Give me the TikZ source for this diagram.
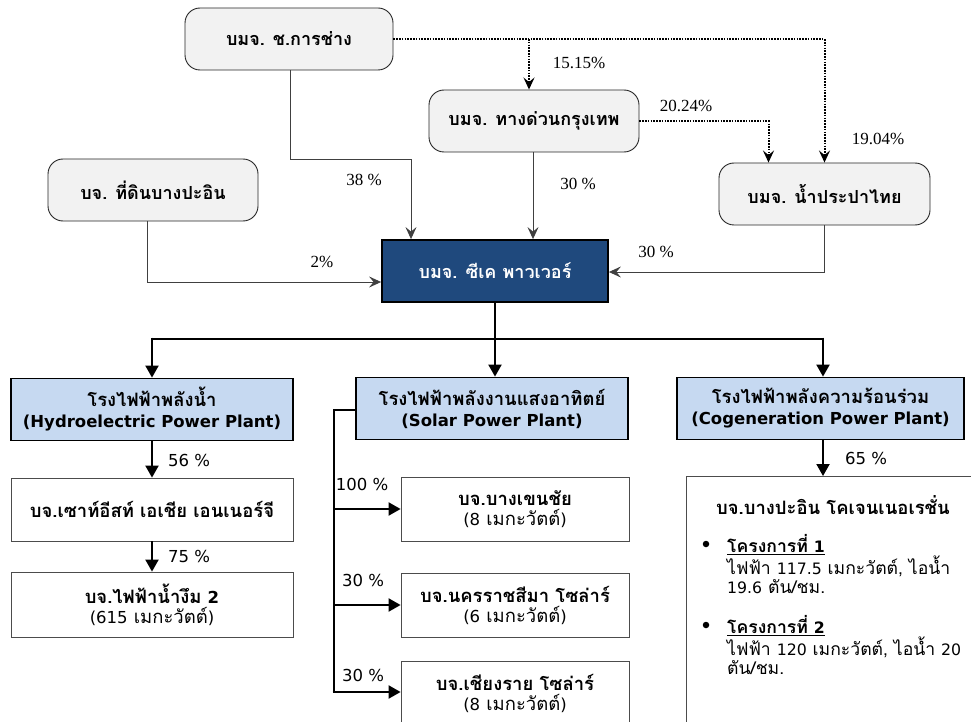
\documentclass[tikz,border=0pt]{standalone}
\usepackage{fontspec}
\setmainfont{Liberation Serif}
\newfontfamily\thai[Script=Thai]{Loma}
\newfontfamily\thaiL[Script=Thai,Scale=1.23]{Loma}
\newfontfamily\lat[Scale=1.1]{DejaVu Sans}
\newcommand\LL[1]{{\lat #1}}
\usetikzlibrary{arrows.meta}
\definecolor{boxgray}{HTML}{F2F2F2}
\definecolor{ckblue}{HTML}{1F497D}
\definecolor{lightblue}{HTML}{C6D9F1}
\begin{document}
\begin{tikzpicture}[x=1pt,y=-1pt,
  topbox/.style={draw=black!85, fill=boxgray, rounded corners=15pt, line width=0.9pt,
    minimum width=#1, minimum height=62pt, inner sep=0pt,
    font=\thai\bfseries\fontsize{18}{20}\selectfont},
  ckbox/.style={draw=black, fill=ckblue, line width=1.8pt, text=white,
    minimum width=226pt, minimum height=62pt, inner sep=0pt,
    font=\thai\bfseries\fontsize{18}{20}\selectfont},
  plantbox/.style={draw=black, fill=lightblue, line width=1.8pt, align=center,
    minimum width=#1, minimum height=62pt, inner sep=0pt,
    font=\thaiL\bfseries\fontsize{15}{21}\selectfont},
  cobox/.style={draw=black!70, fill=white, line width=0.8pt, align=center,
    minimum width=#1, minimum height=64pt, inner sep=0pt,
    font=\thaiL\fontsize{15}{20}\selectfont},
  conn/.style={draw=black!75, line width=0.9pt, -{Stealth[length=12pt,width=11pt,inset=4.5pt]}},
  plainconn/.style={draw=black!75, line width=0.9pt},
  dotconn/.style={draw=black, line width=2pt, dash pattern=on 1.6pt off 1.2pt,
    -{Stealth[length=12pt,width=11pt,inset=4.5pt]}},
  pct/.style={font=\fontsize{17}{20}\selectfont, inner sep=0pt},
  lpct/.style={font=\lat\fontsize{15}{18}\selectfont, inner sep=0pt},
  bus/.style={draw=black, line width=2.6pt},
  busarrow/.style={draw=black, line width=2pt, -{Triangle[length=12pt,width=13pt]}},
]
\useasboundingbox (0,0) rectangle (971,722);

% top boxes
\node[topbox=208pt] (A) at (289,39) {บมจ. ช.การช่าง};
\node[topbox=210pt] (B) at (534,121) {บมจ. ทางด่วนกรุงเทพ};
\node[topbox=210pt] (C) at (153,190) {บจ. ที่ดินบางปะอิน};
\node[topbox=211pt] (D) at (824.5,194) {บมจ. น้ำประปาไทย};
\node[ckbox] (E) at (495,271) {บมจ. ซีเค พาวเวอร์};

% top connectors
\coordinate (a1) at (290,159);
\draw[plainconn] ([xshift=1pt]A.south) -- (a1);
\draw[conn] (a1) -| ([xshift=-84pt]E.north);
\draw[conn] ([xshift=-1pt]B.south) -- ([xshift=-1pt]B.south |- E.north);
\draw[conn] ([xshift=-6pt]C.south) |- ([yshift=-11pt]E.west);
\draw[conn] (D.south) |- ([yshift=-1pt]E.east);
\draw[dotconn] (A.east) -| (D.north);
\draw[dotconn] ([xshift=-5pt]B.north |- A.east) -- ([xshift=-5pt]B.north);
\draw[dotconn] (B.east) -| ([xshift=-56pt]D.north);

% top labels
\node[pct] (l1) at (579,63) {15.15\%};
\node[pct] (l2) at (686,106) {20.24\%};
\node[pct] (l3) at (878,139) {19.04\%};
\node[pct] (l4) at (364,180) {38 \%};
\node[pct] (l5) at (578,184) {30 \%};
\node[pct] (l6) at (322,262) {2\%};
\node[pct] (l7) at (656,252) {30 \%};

% plant boxes
\node[plantbox=282pt] (H) at (152,409.5) {โรงไฟฟ้าพลังน้ำ\\\LL{(Hydroelectric Power Plant)}};
\node[plantbox=272pt] (S) at (492,408.5) {โรงไฟฟ้าพลังงานแสงอาทิตย์\\\LL{(Solar Power Plant)}};
\node[plantbox=287pt] (G) at (820.5,408.5) {โรงไฟฟ้าพลังความร้อนร่วม\\\LL{(Cogeneration Power Plant)}};

% company boxes
\node[cobox=282pt, minimum height=63pt] (H1) at (152,509.5) {\bfseries บจ.เซาท์อีสท์ เอเชีย เอนเนอร์จี};
\node[cobox=282pt, minimum height=65pt] (H2) at (152,604.5) {\bfseries บจ.ไฟฟ้าน้ำงึม \LL{2}\\\LL{(615} เมกะวัตต์\LL{)}};
\node[cobox=228pt] (S1) at (515,509) {\bfseries บจ.บางเขนชัย\\\LL{(8} เมกะวัตต์\LL{)}};
\node[cobox=228pt] (S2) at (515,605) {\bfseries บจ.นครราชสีมา โซล่าร์\\\LL{(6} เมกะวัตต์\LL{)}};
\node[cobox=228pt] (S3) at (515,693) {\bfseries บจ.เชียงราย โซล่าร์\\\LL{(8} เมกะวัตต์\LL{)}};
\node[draw=black!70, line width=0.8pt, anchor=north west, minimum width=300pt,
  minimum height=260pt, inner sep=0pt] (G1) at (686,476) {};

% cogeneration text
\node[font=\thaiL\bfseries\fontsize{15}{18}\selectfont, inner sep=0pt] (g1h) at (833,505)
  {บจ.บางปะอิน โคเจนเนอเรชั่น};
\node[circle, fill=black, inner sep=0pt, minimum size=6.5pt] (b1) at (706,544) {};
\node[circle, fill=black, inner sep=0pt, minimum size=6.5pt] (b2) at (706,625) {};
\node[font=\thaiL\fontsize{14.3}{19.5}\selectfont, align=left, anchor=north west, inner sep=0pt]
  (p1) at (727,534) {\underline{\bfseries โครงการที่ \LL{1}}\\ไฟฟ้า \LL{117.5} เมกะวัตต์, ไอน้ำ\\\LL{19.6} ตัน/ชม.};
\node[font=\thaiL\fontsize{14.3}{19.5}\selectfont, align=left, anchor=north west, inner sep=0pt]
  (p2) at (727,615) {\underline{\bfseries โครงการที่ \LL{2}}\\ไฟฟ้า \LL{120} เมกะวัตต์, ไอน้ำ \LL{20}\\ตัน/ชม.};

% bus
\coordinate (busL) at (152,339);
\coordinate (busR) at (823,339);
\draw[bus] (busL) -- (busR);
\draw[bus] (E.south) -- ([yshift=-0.1pt]E.south |- busL);
\draw[busarrow] ([yshift=-0.1pt]E.south |- busL) -- (E.south |- S.north);
\draw[busarrow] ([yshift=1.3pt]busL) -- (H.north);
\draw[busarrow] ([yshift=1.3pt]busR) -- (busR |- G.north);
\draw[busarrow] (H.south) -- (H1.north);
\draw[busarrow] (H1.south) -- (H2.north);
\draw[busarrow] (busR |- G.south) -- (busR |- G1.north);

% solar branch
\coordinate (sb) at (334,692);
\draw[bus] ([yshift=-1.5pt]S.west) -| (sb);
\draw[busarrow] (S1.west -| sb) -- (S1.west);
\draw[busarrow] (S2.west -| sb) -- (S2.west);
\draw[busarrow] ([xshift=-1.3pt]sb) -- (S3.west |- sb);

% lower labels
\node[lpct] (m1) at (189,460) {56 \%};
\node[lpct] (m2) at (189,556) {75 \%};
\node[lpct] (m3) at (362,484) {100 \%};
\node[lpct] (m4) at (363,580) {30 \%};
\node[lpct] (m5) at (363,675) {30 \%};
\node[lpct] (m6) at (866,458) {65 \%};
\end{tikzpicture}
\end{document}
